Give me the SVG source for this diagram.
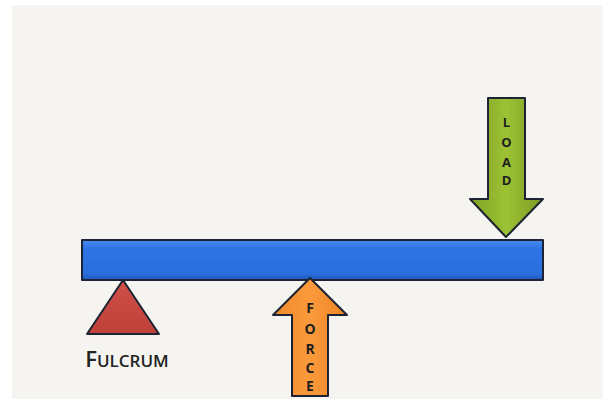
<svg xmlns="http://www.w3.org/2000/svg" width="611" height="399" viewBox="0 0 611 399">
<defs>
<linearGradient id="gBeam" x1="0" y1="0" x2="0" y2="1">
<stop offset="0" stop-color="#4a8cf0"/>
<stop offset="0.2" stop-color="#2f74e6"/>
<stop offset="0.85" stop-color="#2a6ddc"/>
<stop offset="1" stop-color="#1f56b8"/>
</linearGradient>
<linearGradient id="gLoad" x1="0" y1="0" x2="1" y2="0">
<stop offset="0" stop-color="#7fa126"/>
<stop offset="0.5" stop-color="#9cc234"/>
<stop offset="1" stop-color="#7a9a22"/>
</linearGradient>
<linearGradient id="gForce" x1="0" y1="0" x2="1" y2="0">
<stop offset="0" stop-color="#f08a2a"/>
<stop offset="0.5" stop-color="#fb9a3c"/>
<stop offset="1" stop-color="#ec8424"/>
</linearGradient>
<linearGradient id="gTri" x1="0" y1="0" x2="0" y2="1">
<stop offset="0" stop-color="#d0504a"/>
<stop offset="1" stop-color="#bf4038"/>
</linearGradient>
</defs>
<style>
.edge{stroke:#1c2433;stroke-width:2;stroke-linejoin:round}
.lbl{font-family:"Open Sans","Liberation Sans",sans-serif;font-weight:700;fill:#1e1e1e;text-anchor:middle}
</style>
<rect x="0" y="0" width="611" height="399" fill="#ffffff"/>
<rect x="12" y="5" width="591" height="394" fill="#f5f4f1"/>
<g id="beam">
<rect x="82" y="240" width="461" height="40" fill="url(#gBeam)" class="edge"/>
</g>
<g id="fulcrum">
<polygon points="123,280 159,334 87,334" fill="url(#gTri)" class="edge"/>
<text x="127" y="367" class="lbl" style="font-weight:600;fill:#222"><tspan font-size="22">F</tspan><tspan font-size="17">ULCRUM</tspan></text>
</g>
<g id="load">
<polygon points="488,98 525,98 525,199 543,199 506,237 470,199 488,199" fill="url(#gLoad)" class="edge"/>
<text class="lbl" font-size="13" x="506.5"><tspan x="506.5" y="127">L</tspan><tspan x="506.5" y="147">O</tspan><tspan x="506.5" y="167">A</tspan><tspan x="506.5" y="185">D</tspan></text>
</g>
<g id="force">
<polygon points="310,278 347,315 328,315 328,396 292,396 292,315 273,315" fill="url(#gForce)" class="edge"/>
<text class="lbl" font-size="14" x="310"><tspan x="310" y="313">F</tspan><tspan x="310" y="334">O</tspan><tspan x="310" y="354">R</tspan><tspan x="310" y="373">C</tspan><tspan x="310" y="391">E</tspan></text>
</g>
</svg>
